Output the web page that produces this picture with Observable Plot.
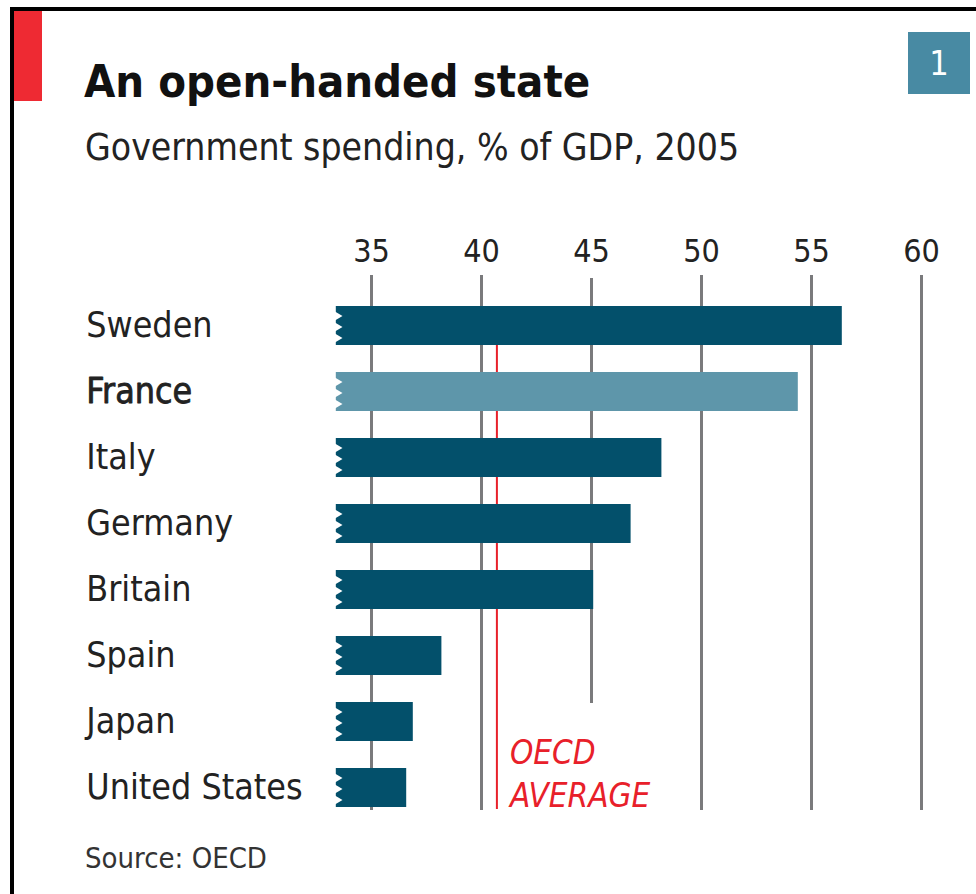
<!DOCTYPE html>
<html>
<head>
<meta charset="utf-8">
<script src="https://cdn.jsdelivr.net/npm/d3@7"></script>
<script src="https://cdn.jsdelivr.net/npm/@observablehq/plot@0.6"></script>
<style>
  html, body { margin: 0; padding: 0; background: #fff; }
  #page { position: relative; width: 976px; height: 894px; overflow: hidden; background: #fff;
          font-family: "DejaVu Sans Condensed", "DejaVu Sans", sans-serif; }
  .abs { position: absolute; white-space: nowrap; line-height: 0; }
  #topline { position: absolute; left: 10px; top: 7px; width: 966px; height: 4px; background: #000; }
  #leftline { position: absolute; left: 10px; top: 7px; width: 4px; height: 887px; background: #000; }
  #tab { position: absolute; left: 14px; top: 11px; width: 28px; height: 90px; background: #ee2a33; }
  #num { position: absolute; left: 908px; top: 32px; width: 62px; height: 62px; background: #488aa3;
         color: #fff; font-size: 34px; font-weight: normal; text-align: center; line-height: 62px; }
  #title { left: 84px; top: 82px; font-size: 45px; font-weight: bold; color: #111; }
  #subtitle { left: 85px; top: 148px; font-size: 37px; color: #222; }
  #source { left: 85px; top: 858px; font-size: 29px; color: #333; }
  #chart { position: absolute; left: 0; top: 200px; }
</style>
</head>
<body>
<div id="page">
  <div id="topline"></div>
  <div id="leftline"></div>
  <div id="tab"></div>
  <div id="num">1</div>
  <div id="title" class="abs">An open-handed state</div>
  <div id="subtitle" class="abs">Government spending, % of GDP, 2005</div>
  <div id="chart"></div>
  <div id="source" class="abs">Source: OECD</div>
</div>
<script>
// ---- data ----
const countries = ["Sweden", "France", "Italy", "Germany", "Britain", "Spain", "Japan", "United States"];
const spending = [56.4, 54.4, 48.2, 46.8, 45.1, 38.2, 36.9, 36.6];
const highlighted = "France";
const oecdAverage = 40.7;
const axisStart = 33.4;          // truncated axis origin (broken bars)
const ticks = [35, 40, 45, 50, 55, 60];

const rows = countries.map((c, i) => ({country: c, value: spending[i]}));
const notchOffsets = [-10, 1, 12];

const dark = "#03506b", light = "#5e96aa", red = "#e8202a", grid = "#7a7a7c";
const font = "DejaVu Sans Condensed, DejaVu Sans, sans-serif";

const chart = Plot.plot({
  width: 976,
  height: 640,
  marginTop: 75,
  marginBottom: 30,
  marginLeft: 0,
  marginRight: 0,
  style: {fontFamily: font, background: "transparent", overflow: "visible"},
  x: {domain: [35, 60], range: [371, 921]},
  y: {domain: countries, range: [89.7, 622.3], paddingInner: 0.414, paddingOuter: 0.207, axis: null},
  marks: [
    // gridlines
    Plot.ruleX(ticks.filter(t => t !== 45), {x: d => d, stroke: grid, strokeWidth: 3}),
    Plot.ruleX(ticks.filter(t => t === 45), {x: d => d, y1: () => "Sweden", y2: () => "Spain",
      insetTop: -28, insetBottom: -28, stroke: grid, strokeWidth: 3}),
    // OECD average line
    Plot.ruleX([oecdAverage], {x: d => d, y1: () => "France", y2: () => "United States",
      insetTop: -28, insetBottom: -2, stroke: red, strokeWidth: 2}),
    // bars
    Plot.barX(rows, {
      y: "country", x1: () => axisStart, x2: "value",
      fill: d => d.country === highlighted ? light : dark
    }),
    // broken-axis notches
    ...notchOffsets.map(o => Plot.dot(rows, {x: () => axisStart, y: "country", dy: o, symbol: "triangle",
      rotate: 90, r: 4, fill: "white", stroke: "none"})),
    // country labels
    Plot.text(rows, {
      y: "country", x: () => axisStart, dx: -250, textAnchor: "start",
      text: "country", fontSize: 35.5, fill: "#222",
      stroke: d => d.country === highlighted ? "#222" : "none", strokeWidth: 0.8
    }),
    // OECD label
    Plot.text(["OECD\nAVERAGE"], {
      x: () => oecdAverage, y: () => "United States", dx: 13, dy: -16,
      textAnchor: "start", lineAnchor: "middle", lineHeight: 1.3,
      text: d => d, fontSize: 33, fontStyle: "italic", fill: red
    }),
    // axis
    Plot.axisX(ticks, {anchor: "top", label: null, tickSize: 0, tickPadding: 14, fontSize: 32, fill: "#222",
      tickFormat: d => String(d)})
  ]
});
document.getElementById("chart").appendChild(chart);
</script>
</body>
</html>
